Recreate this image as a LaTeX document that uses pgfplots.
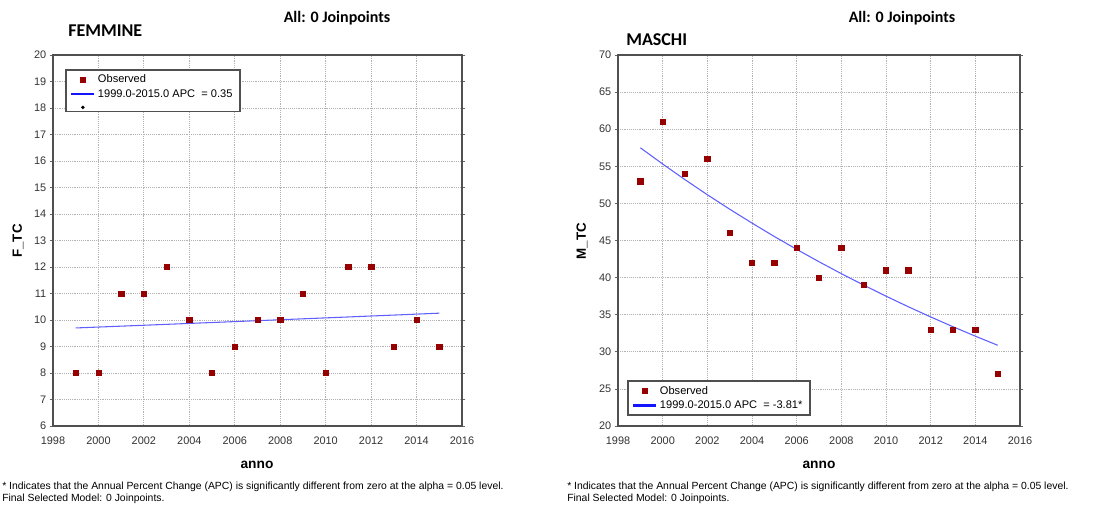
\documentclass[border=0pt]{standalone}
\usepackage{pgfplots}
\pgfplotsset{compat=1.18}
\usepackage{fontspec}
\setmainfont{Liberation Sans}
\newfontfamily\carlito{Carlito}
\definecolor{obsred}{RGB}{150,0,0}
\definecolor{fitblue}{RGB}{95,95,255}
\definecolor{legblue}{RGB}{20,20,255}
\definecolor{frame}{RGB}{80,80,80}
\pgfplotsset{
  jpstyle/.style={
    scale only axis,
    anchor=south west,
    xmin=1998, xmax=2016,
    xtick={1998,2000,...,2016},
    grid=major,
    major grid style={densely dotted, black!30, line width=0.6pt},
    axis line style={frame, line width=1.4pt},
    tick label style={font=\fontsize{8.2}{9}\selectfont, text=black!80},
    /pgf/number format/assume math mode=true,
    /pgf/number format/1000 sep={},
    xtick style={draw=none},
    ytick style={black!60, line width=0.5pt},
    tick align=outside,
    major tick length=2.5pt,
    xticklabel style={yshift=-2pt},
    yticklabel style={xshift=1pt},
    legend cell align=left,
    legend style={draw=frame, line width=1.35pt, fill=white,
      font=\fontsize{8.3}{9}\selectfont, inner xsep=3.5pt, inner ysep=2pt,
      row sep=0.5pt, nodes={inner ysep=1.5pt}},
  },
  obsleg/.style={legend image code/.code={
    \fill[obsred] (0.3cm-1.5pt,-1.5pt) rectangle (0.3cm+1.5pt,1.5pt);}},
  fitleg/.style={legend image code/.code={
    \draw[legblue, line width=1.6pt] (0cm,0cm) -- (0.6cm,0cm);}},
  dotleg/.style={legend image code/.code={
    \fill[black] (0.3cm,-2pt) circle (0.45pt);}},
}
\begin{document}
\begin{tikzpicture}
\path[use as bounding box] (0pt,0pt) rectangle (824.25pt,-380.25pt);

% ---------- FEMMINE ----------
\begin{axis}[jpstyle,
  at={(39.75pt,-319.5pt)}, width=306.75pt, height=278.25pt,
  ymin=6, ymax=20, ytick={6,7,...,20},
  legend style={at={(0.029,0.962)}, anchor=north west},
]
\addplot[fitblue, line width=0.8pt, no marks, forget plot] coordinates {
(1999,9.700) (2000,9.734) (2001,9.768) (2002,9.802) (2003,9.836) (2004,9.871)
(2005,9.905) (2006,9.940) (2007,9.975) (2008,10.010) (2009,10.045) (2010,10.080)
(2011,10.115) (2012,10.151) (2013,10.186) (2014,10.222) (2015,10.258)};
\addplot[only marks, mark=square*, mark size=2pt, obsred, forget plot] coordinates {
(1999,8) (2000,8) (2001,11) (2002,11) (2003,12) (2004,10) (2005,8) (2006,9)
(2007,10) (2008,10) (2009,11) (2010,8) (2011,12) (2012,12) (2013,9) (2014,10) (2015,9)};
\addlegendimage{obsleg}
\addlegendentry{Observed}
\addlegendimage{fitleg}
\addlegendentry{1999.0-2015.0 APC \ = 0.35}
\addlegendimage{dotleg}
\addlegendentry{}
\end{axis}

% ---------- MASCHI ----------
\begin{axis}[jpstyle,
  at={(463.5pt,-319.5pt)}, width=301.5pt, height=278.25pt,
  ymin=20, ymax=70, ytick={20,25,...,70},
  legend style={at={(0.022,0.027)}, anchor=south west},
]
\addplot[fitblue, line width=0.8pt, no marks, forget plot] coordinates {
(1999,57.50) (2000,55.31) (2001,53.20) (2002,51.17) (2003,49.22) (2004,47.35)
(2005,45.54) (2006,43.81) (2007,42.14) (2008,40.53) (2009,38.99) (2010,37.50)
(2011,36.07) (2012,34.70) (2013,33.38) (2014,32.11) (2015,30.88)};
\addplot[only marks, mark=square*, mark size=2pt, obsred, forget plot] coordinates {
(1999,53) (2000,61) (2001,54) (2002,56) (2003,46) (2004,42) (2005,42) (2006,44)
(2007,40) (2008,44) (2009,39) (2010,41) (2011,41) (2012,33) (2013,33) (2014,33) (2015,27)};
\addlegendimage{obsleg}
\addlegendentry{Observed}
\addlegendimage{fitleg}
\addlegendentry{1999.0-2015.0 APC \ = -3.81*}
\end{axis}

% ---------- titles & labels ----------
\node[font=\carlito\bfseries\fontsize{12}{13}\selectfont] at (252.75pt,-13.5pt) {All: 0 Joinpoints};
\node[font=\carlito\bfseries\fontsize{12}{13}\selectfont] at (676.5pt,-13.5pt) {All: 0 Joinpoints};
\node[font=\carlito\bfseries\fontsize{13.5}{15}\selectfont, anchor=west, inner xsep=0pt] at (51pt,-23.25pt) {FEMMINE};
\node[font=\carlito\bfseries\fontsize{13.5}{15}\selectfont, anchor=west, inner xsep=0pt] at (469.5pt,-30pt) {MASCHI};
\node[font=\bfseries\fontsize{10.3}{12}\selectfont] at (192.75pt,-348.75pt) {anno};
\node[font=\bfseries\fontsize{10.3}{12}\selectfont] at (614.25pt,-348.75pt) {anno};
\node[font=\bfseries\fontsize{10}{12}\selectfont, rotate=90] at (13.5pt,-180.75pt) {F\_TC};
\node[font=\bfseries\fontsize{10}{12}\selectfont, rotate=90] at (436.5pt,-180.75pt) {M\_TC};
\node[font=\fontsize{7.8}{9}\selectfont, anchor=north west, align=left, inner sep=0pt] at (1.5pt,-361.5pt)
  {* Indicates that the Annual Percent Change (APC) is significantly different from zero at the alpha = 0.05 level.\\ Final Selected Model: 0 Joinpoints.};
\node[font=\fontsize{7.8}{9}\selectfont, anchor=north west, align=left, inner sep=0pt] at (425.25pt,-361.5pt)
  {* Indicates that the Annual Percent Change (APC) is significantly different from zero at the alpha = 0.05 level.\\ Final Selected Model: 0 Joinpoints.};
\end{tikzpicture}
\end{document}
